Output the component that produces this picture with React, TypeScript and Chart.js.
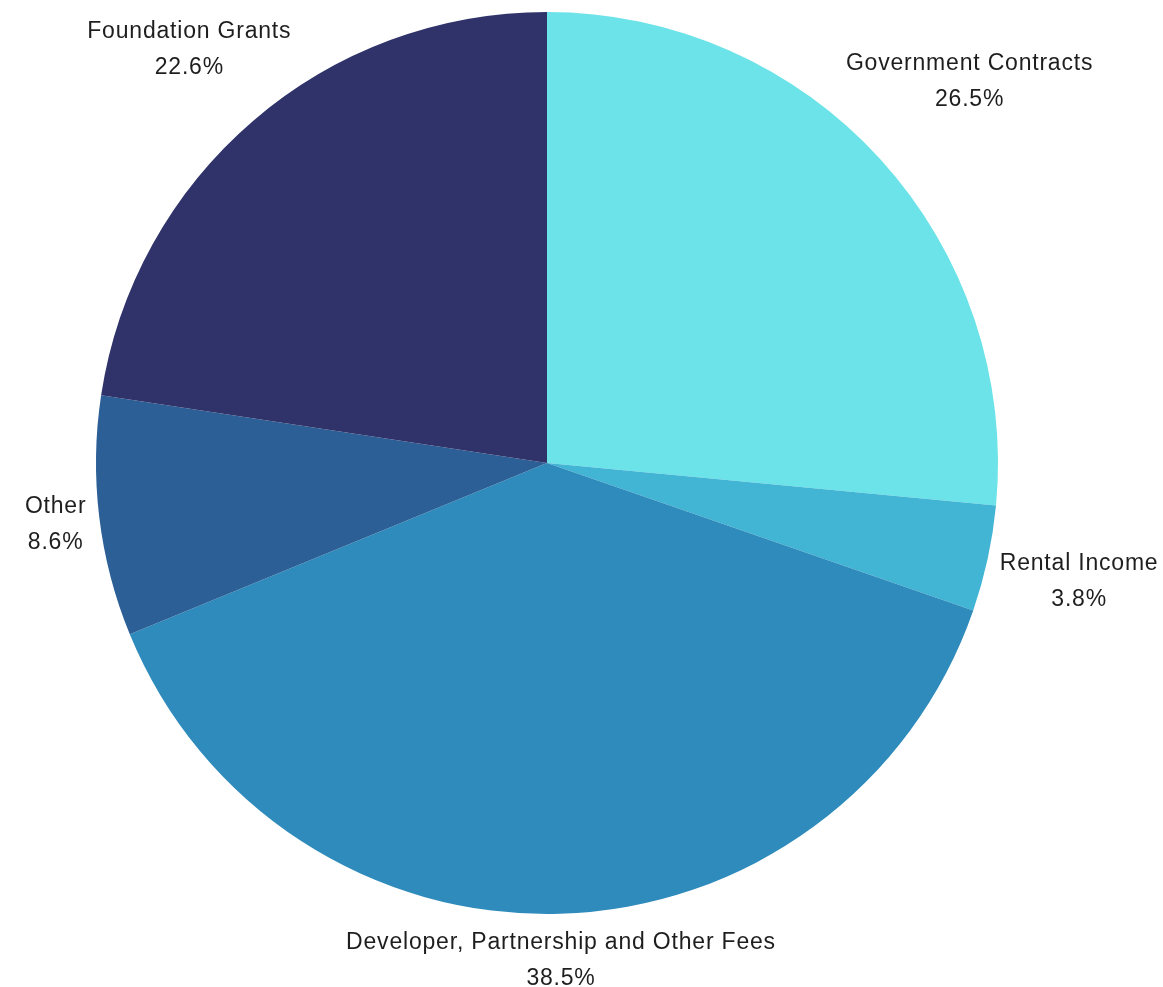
import React, { useEffect, useRef } from "react";
import { Chart, registerables } from "chart.js";

Chart.register(...registerables);

const categories = [
  "Government Contracts",
  "Rental Income",
  "Developer, Partnership and Other Fees",
  "Other",
  "Foundation Grants",
];
const values = [26.5, 3.8, 38.5, 8.6, 22.6];
const colors = ["#6BE3E8", "#42B4D4", "#2E8BBB", "#2B5F96", "#2F336A"];

const FONT = '23px "Liberation Sans", Arial, Helvetica, sans-serif';

const outerLabels = {
  id: "outerLabels",
  afterDraw(chart: any) {
    const ctx = chart.ctx;
    const meta = chart.getDatasetMeta(0);
    const total = values.reduce((a, b) => a + b, 0);
    ctx.save();
    ctx.font = FONT;
    (ctx as any).letterSpacing = "0.8px";
    ctx.fillStyle = "#1e1e1e";
    ctx.textAlign = "center";
    ctx.textBaseline = "middle";
    const lineGap = 36;
    const h = 56;
    meta.data.forEach((arc: any, i: number) => {
      const { x, y, startAngle, endAngle, outerRadius } = arc.getProps(
        ["x", "y", "startAngle", "endAngle", "outerRadius"],
        true
      );
      const mid = (startAngle + endAngle) / 2;
      const l1 = categories[i];
      const l2 = ((values[i] / total) * 100).toFixed(1) + "%";
      const w = Math.max(ctx.measureText(l1).width, ctx.measureText(l2).width);
      const d =
        outerRadius +
        10 +
        (Math.abs(Math.cos(mid)) * w) / 2 +
        (Math.abs(Math.sin(mid)) * h) / 2;
      const cx = x + Math.cos(mid) * d;
      const cy = y + Math.sin(mid) * d + 3;
      ctx.fillText(l1, cx, cy - lineGap / 2);
      ctx.fillText(l2, cx, cy + lineGap / 2);
    });
    ctx.restore();
  },
};

export default function App() {
  const ref = useRef<HTMLCanvasElement | null>(null);
  useEffect(() => {
    document.body.style.margin = "0";
    document.body.style.background = "#ffffff";
    if (!ref.current) return;
    const chart = new Chart(ref.current, {
      type: "pie",
      data: {
        labels: categories,
        datasets: [
          {
            data: values,
            backgroundColor: colors,
            borderWidth: 0,
          },
        ],
      },
      options: {
        animation: false,
        responsive: false,
        maintainAspectRatio: false,
        layout: { padding: { left: 96, right: 165, top: 12, bottom: 73 } },
        plugins: {
          legend: { display: false },
          tooltip: { enabled: false },
        },
      },
      plugins: [outerLabels],
    });
    return () => chart.destroy();
  }, []);
  return (
    <div style={{ width: 1163, height: 987, background: "#fff" }}>
      <canvas ref={ref} width={1163} height={987} style={{ display: "block" }} />
    </div>
  );
}
